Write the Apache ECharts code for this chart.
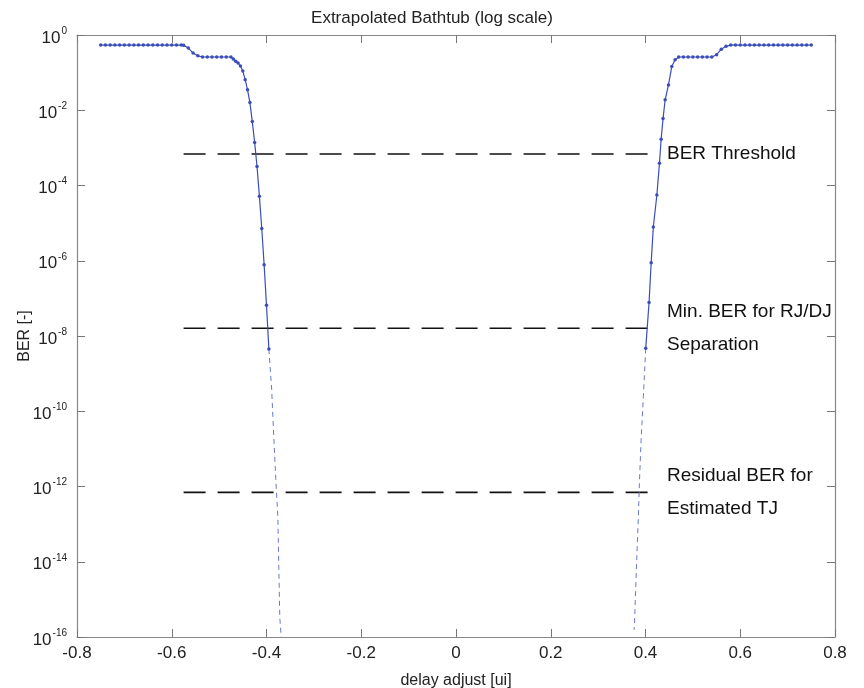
<!DOCTYPE html>
<html>
<head>
<meta charset="utf-8">
<script src="https://cdn.jsdelivr.net/npm/echarts@6/dist/echarts.min.js"></script>
<style>
html,body{margin:0;padding:0;background:#fff;}
#chart{width:864px;height:688px;}
</style>
</head>
<body>
<div id="chart"></div>
<script>
// ---- data ----
const titleText = 'Extrapolated Bathtub (log scale)';
const xAxisName = 'delay adjust [ui]';
const yAxisName = 'BER [-]';
const xTicks = [-0.8, -0.6, -0.4, -0.2, 0, 0.2, 0.4, 0.6, 0.8];

// measured part, left edge of the bathtub
const leftX = [-0.75,-0.74,-0.73,-0.72,-0.71,-0.70,-0.69,-0.68,-0.67,-0.66,-0.65,-0.64,-0.63,-0.62,-0.61,-0.60,-0.59,-0.58,
  -0.575,-0.565,-0.555,-0.545,-0.535,-0.525,-0.515,-0.505,-0.495,-0.485,-0.475,
  -0.47,-0.465,-0.46,-0.455,-0.45,-0.445,-0.44,-0.435,-0.43,-0.425,-0.42,-0.415,-0.41,-0.405,-0.40,-0.395];
const leftBER = [0.54,0.54,0.54,0.54,0.54,0.54,0.54,0.54,0.54,0.54,0.54,0.54,0.54,0.54,0.54,0.54,0.54,0.54,
  0.53,0.45,0.33,0.28,0.26,0.26,0.26,0.26,0.26,0.26,0.26,
  0.23,0.2,0.18,0.15,0.11,0.065,0.035,0.016,0.005,1.4e-3,3.2e-4,5.2e-5,7.2e-6,7.8e-7,6.6e-8,4.5e-9];
// extrapolated part, left edge
const leftExtX = [-0.395,-0.389,-0.386,-0.380,-0.376,-0.372,-0.369];
const leftExtBER = [4.5e-9,3.7e-10,4.9e-11,1.26e-12,1.5e-13,3.4e-16,1e-16];

// measured part, right edge
const rightX = [0.4005,0.4075,0.412,0.4165,0.424,0.4295,0.433,0.437,0.4415,0.4485,0.4555,0.4625,0.47,
  0.48,0.49,0.50,0.51,0.52,0.53,0.54,0.55,0.56,0.57,0.58,
  0.59,0.60,0.61,0.62,0.63,0.64,0.65,0.66,0.67,0.68,0.69,0.70,0.71,0.72,0.73,0.74,0.75];
const rightBER = [4.7e-9,7.8e-8,8.9e-7,7.9e-6,5.6e-5,3.9e-4,1.7e-3,6e-3,0.019,0.047,0.145,0.22,0.26,
  0.26,0.26,0.26,0.26,0.26,0.26,0.26,0.3,0.42,0.5,0.54,
  0.54,0.54,0.54,0.54,0.54,0.54,0.54,0.54,0.54,0.54,0.54,0.54,0.54,0.54,0.54,0.54,0.54];
// extrapolated part, right edge
const rightExtX = [0.4005,0.3955,0.3907,0.3871,0.385,0.3816,0.3766,0.3759];
const rightExtBER = [4.7e-9,2.5e-10,1.7e-11,1.2e-12,1.6e-13,1.35e-14,1.9e-16,1.55e-16];

// reference levels
const refNames = ['BER Threshold', 'Min. BER for RJ/DJ\nSeparation', 'Residual BER for\nEstimated TJ'];
const refBER = [6.9e-4, 1.6e-8, 7.0e-13];
const refXStart = -0.575;
const refXEnd = 0.418;

// ---- chart ----
const blue = '#3a4db8';
const pair = (xs, ys) => xs.map((x, i) => [x, ys[i]]);

const series = [
  {
    type: 'line', data: pair(leftExtX, leftExtBER), showSymbol: false, z: 2,
    lineStyle: {color: '#6a78cc', width: 1, type: [5, 4]}, silent: true
  },
  {
    type: 'line', data: pair(rightExtX, rightExtBER), showSymbol: false, z: 2,
    lineStyle: {color: '#6a78cc', width: 1, type: [5, 4]}, silent: true
  },
  {
    type: 'line', data: pair(leftX, leftBER), symbol: 'circle', symbolSize: 3.5, z: 3,
    itemStyle: {color: blue}, lineStyle: {color: blue, width: 1.2}
  },
  {
    type: 'line', data: pair(rightX, rightBER), symbol: 'circle', symbolSize: 3.5, z: 3,
    itemStyle: {color: blue}, lineStyle: {color: blue, width: 1.2}
  }
];
refBER.forEach((v, i) => {
  series.push({
    type: 'line', showSymbol: false, z: 1,
    lineStyle: {color: '#111', width: 1.6, type: [22, 12]},
    endLabel: {
      show: true, distance: 13, formatter: refNames[i],
      fontFamily: 'Liberation Sans', fontSize: 19, color: '#111', lineHeight: 33, align: 'left', verticalAlign: 'middle'
    },
    data: [[refXStart, v], [refXEnd, v]]
  });
});

const chart = echarts.init(document.getElementById('chart'));
chart.setOption({
  animation: false,
  backgroundColor: '#fff',
  title: {
    text: titleText, left: 'center', top: 5,
    textStyle: {fontFamily: 'Liberation Sans', fontSize: 17, fontWeight: 'normal', color: '#222'}
  },
  grid: {left: 77, right: 29, top: 35, bottom: 51, outerBoundsMode: 'none', containLabel: false},
  xAxis: [
    {
      type: 'value', min: -0.8, max: 0.8, interval: 0.2,
      name: xAxisName, nameLocation: 'middle', nameGap: 36, nameMoveOverlap: false,
      nameTextStyle: {fontFamily: 'Liberation Sans', fontSize: 16, color: '#222'},
      axisLine: {show: true, onZero: false, lineStyle: {color: '#888', width: 1.2}},
      axisTick: {show: true, inside: true, length: 8, lineStyle: {color: '#777'}},
      axisLabel: {fontFamily: 'Liberation Sans', fontSize: 17, color: '#222', margin: 8,
        formatter: v => { const t = xTicks.find(x => Math.abs(x - v) < 1e-9); return t === undefined ? '' : String(t); }},
      splitLine: {show: false}
    },
    {
      type: 'value', min: -0.8, max: 0.8, interval: 0.2, position: 'top',
      axisLine: {show: true, onZero: false, lineStyle: {color: '#888', width: 1.2}},
      axisTick: {show: true, inside: true, length: 8, lineStyle: {color: '#777'}},
      axisLabel: {show: false}, splitLine: {show: false}
    }
  ],
  yAxis: [
    {
      type: 'log', logBase: 10, min: 1e-16, max: 1, interval: 2,
      name: yAxisName, nameLocation: 'middle', nameGap: 44, nameMoveOverlap: false,
      nameTextStyle: {fontFamily: 'Liberation Sans', fontSize: 16, color: '#222'},
      axisLine: {show: true, onZero: false, lineStyle: {color: '#888', width: 1.2}},
      axisTick: {show: true, inside: true, length: 8, lineStyle: {color: '#777'}},
      minorTick: {show: false},
      axisLabel: {
        margin: 10, color: '#222',
        formatter: v => '{b|10}{s|' + Math.round(Math.log10(v)) + '}',
        rich: {
          b: {fontFamily: 'Liberation Sans', fontSize: 17, color: '#222', padding: [6, 0, 0, 0]},
          s: {fontFamily: 'Liberation Sans', fontSize: 10, color: '#222', padding: [0, 0, 8, 1]}
        }
      },
      splitLine: {show: false}
    },
    {
      type: 'log', logBase: 10, min: 1e-16, max: 1, interval: 2, position: 'right',
      axisLine: {show: true, onZero: false, lineStyle: {color: '#888', width: 1.2}},
      axisTick: {show: true, inside: true, length: 8, lineStyle: {color: '#777'}},
      axisLabel: {show: false}, splitLine: {show: false}
    }
  ],
  series: series
});
</script>
</body>
</html>
